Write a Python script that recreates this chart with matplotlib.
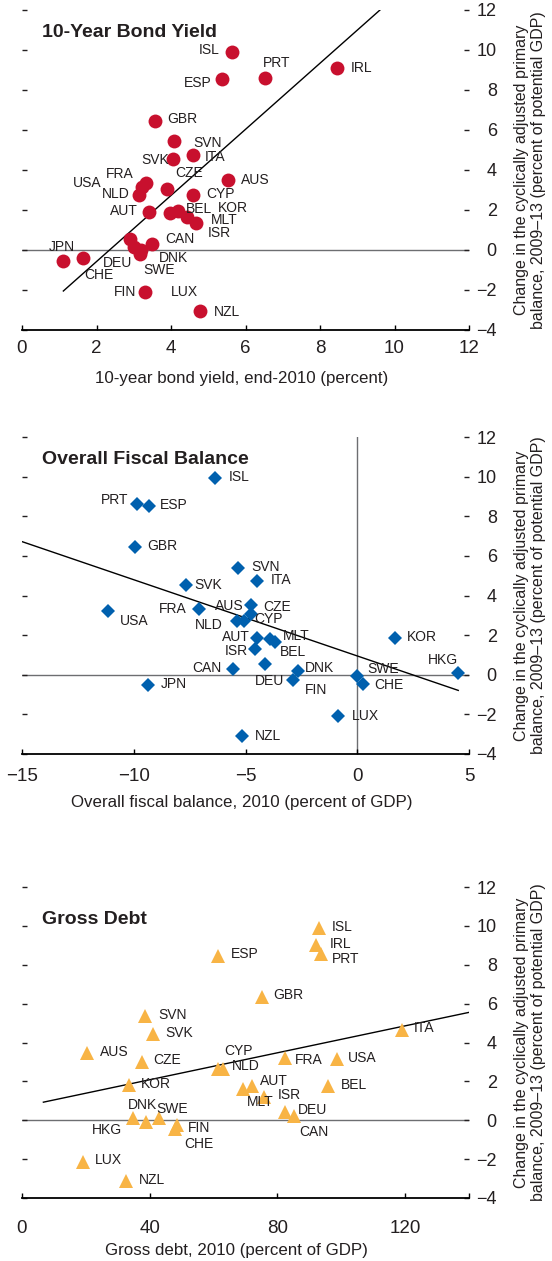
import matplotlib
matplotlib.use("Agg")
import matplotlib.pyplot as plt
from matplotlib import font_manager

# countries / values
bond_codes = ["ISL", "IRL", "PRT", "ESP", "GBR", "SVN", "ITA", "SVK", "FRA", "USA",
              "CZE", "AUS", "NLD", "CYP", "AUT", "BEL", "KOR", "MLT", "ISR", "CAN",
              "JPN", "DEU", "CHE", "DNK", "SWE", "FIN", "LUX", "NZL"]
bond_x = [5.65, 8.45, 6.52, 5.36, 3.57, 4.09, 4.58, 4.05, 3.33, 3.22,
          3.88, 5.54, 3.15, 4.58, 3.42, 3.97, 4.20, 4.42, 4.67, 3.48,
          1.11, 2.90, 1.65, 3.00, 3.20, 3.18, 3.30, 4.78]
bond_y = [9.92, 9.12, 8.62, 8.55, 6.45, 5.43, 4.75, 4.53, 3.35, 3.15,
          3.05, 3.50, 2.75, 2.75, 1.88, 1.83, 1.97, 1.67, 1.33, 0.30,
          -0.53, 0.55, -0.38, 0.15, 0.02, -0.22, -2.08, -3.05]
bond_trend_x = [1.11, 9.61]
bond_trend_y = [-2.05, 12.0]

fisc_codes = ["ISL", "PRT", "ESP", "GBR", "SVN", "ITA", "SVK", "USA", "FRA", "AUS",
              "CZE", "NLD", "CYP", "AUT", "MLT", "BEL", "ISR", "DEU", "CAN", "DNK",
              "FIN", "JPN", "SWE", "CHE", "KOR", "HKG", "LUX", "NZL"]
fisc_x = [-6.36, -9.87, -9.33, -9.94, -5.32, -4.47, -7.66, -11.17, -7.08, -4.77,
          -4.77, -5.37, -5.05, -4.47, -3.90, -3.68, -4.56, -4.13, -5.54, -2.67,
          -2.86, -9.35, -0.03, 0.24, 1.69, 4.52, -0.85, -5.16]
fisc_y = [9.91, 8.63, 8.52, 6.45, 5.40, 4.73, 4.51, 3.20, 3.30, 3.53,
          3.08, 2.71, 2.69, 1.87, 1.82, 1.65, 1.28, 0.55, 0.27, 0.18,
          -0.24, -0.54, -0.04, -0.46, 1.87, 0.10, -2.09, -3.07]
fisc_trend_x = [-15.0, 4.52]
fisc_trend_y = [6.72, -0.79]

debt_codes = ["ISL", "IRL", "PRT", "ESP", "GBR", "SVN", "SVK", "ITA", "AUS", "CZE",
              "FRA", "USA", "CYP", "NLD", "KOR", "AUT", "MLT", "ISR", "BEL", "DEU",
              "CAN", "HKG", "DNK", "SWE", "FIN", "CHE", "LUX", "NZL"]
debt_x = [93.0, 92.1, 93.5, 61.5, 75.1, 38.6, 41.1, 118.9, 20.5, 37.7,
          82.4, 98.8, 61.5, 62.8, 33.4, 72.1, 69.1, 75.9, 95.7, 82.4,
          85.2, 34.7, 43.0, 38.7, 48.6, 47.9, 19.0, 32.5]
debt_y = [9.87, 9.04, 8.55, 8.46, 6.36, 5.36, 4.42, 4.65, 3.45, 2.99,
          3.19, 3.14, 2.64, 2.62, 1.81, 1.77, 1.60, 1.22, 1.74, 0.45,
          0.20, 0.11, 0.11, -0.09, -0.27, -0.45, -2.15, -3.10]
debt_trend_x = [6.7, 140.0]
debt_trend_y = [0.93, 5.55]

# label offsets in pixels (dx right, dy up) from each marker
bond_off = {"ISL": (-23, 2), "IRL": (25, 0), "PRT": (12, 15), "ESP": (-24, -4),
            "GBR": (27, 2), "SVN": (33, -2), "ITA": (22, -2), "SVK": (-18, -1),
            "FRA": (-26, 9), "USA": (-55, 4), "CZE": (23, 16), "AUS": (27, 0),
            "NLD": (-24, 1), "CYP": (28, 1), "AUT": (-25, 1), "BEL": (29, 4),
            "KOR": (54, 3), "MLT": (38, -3), "ISR": (23, -10), "CAN": (28, 5),
            "JPN": (-2, 14), "DEU": (-12, -24), "CHE": (15, -17), "DNK": (40, -11),
            "SWE": (18, -20), "FIN": (-15, -38), "LUX": (40, 0), "NZL": (27, -1)}
fisc_off = {"ISL": (24, 1), "PRT": (-22, 4), "ESP": (25, 1), "GBR": (27, 1),
            "SVN": (27, 1), "ITA": (24, 1), "SVK": (22, 0), "USA": (27, -10),
            "FRA": (-26, 0), "AUS": (-21, -1), "CZE": (26, 7), "NLD": (-28, -4),
            "CYP": (24, 2), "AUT": (-21, 1), "MLT": (26, 3), "BEL": (18, -10),
            "ISR": (-19, -2), "DEU": (5, -17), "CAN": (-27, 1), "DNK": (22, 3),
            "FIN": (23, -10), "JPN": (26, 1), "SWE": (27, 7), "CHE": (26, -1),
            "KOR": (27, 1), "HKG": (-15, 13), "LUX": (27, 0), "NZL": (26, 0)}
debt_off = {"ISL": (23, 1), "IRL": (25, 1), "PRT": (25, -5), "ESP": (26, 2),
            "GBR": (27, 2), "SVN": (27, 1), "SVK": (26, 1), "ITA": (22, 2),
            "AUS": (27, 1), "CZE": (25, 2), "FRA": (24, -2), "USA": (25, 1),
            "CYP": (20, 18), "NLD": (23, 3), "KOR": (27, 1), "AUT": (22, 5),
            "MLT": (18, -13), "ISR": (25, 2), "BEL": (26, 1), "DEU": (27, 2),
            "CAN": (20, -16), "HKG": (-26, -12), "DNK": (-17, 13), "SWE": (27, 13),
            "FIN": (22, -3), "CHE": (24, -15), "LUX": (26, 2), "NZL": (26, 1)}

YLABEL = "Change in the cyclically adjusted primary\nbalance, 2009\u201313 (percent of potential GDP)"

names = {f.name for f in font_manager.fontManager.ttflist}
NARROW = "Liberation Sans Narrow" if "Liberation Sans Narrow" in names else "Liberation Sans"
plt.rcParams["font.family"] = [NARROW, "DejaVu Sans"]
TXT = "#231f20"

fig = plt.figure(figsize=(5.52, 12.61), dpi=100)
W, H = 552.0, 1261.0


def panel(top, bottom, xs, ys, codes, offs, tx, ty, marker, color, ms,
          xlim, xticks, xticklabels, xpad, title, title_y, vline=False):
    ax = fig.add_axes([22 / W, 1 - bottom / H, 447 / W, (bottom - top) / H])
    ax.set_xlim(*xlim)
    ax.set_ylim(-4, 12)
    ax.axhline(0, color="#6d6e71", lw=1.0, zorder=1)
    if vline:
        ax.axvline(0, color="#6d6e71", lw=1.0, zorder=1)
    ax.plot(tx, ty, color="black", lw=1.0, zorder=2)
    ax.plot(xs, ys, linestyle="none", marker=marker, color=color, ms=ms,
            markeredgewidth=0, zorder=3)
    for c, x, y in zip(codes, xs, ys):
        dx, dy = offs[c]
        ax.annotate(c, (x, y), xytext=(dx, dy), textcoords="offset pixels",
                    ha="center", va="center", fontsize=10, color=TXT, zorder=4)
    for s in ("left", "right", "top"):
        ax.spines[s].set_visible(False)
    ax.spines["bottom"].set_linewidth(1.3)
    ax.spines["bottom"].set_color("black")
    ax.set_yticks(range(-4, 13, 2))
    ax.set_xticks(xticks, labels=xticklabels)
    ax.tick_params(axis="y", left=True, right=True, labelleft=False, labelright=True,
                   direction="in", length=3.6, width=1, color=TXT, pad=20,
                   labelsize=13, labelcolor=TXT)
    for lbl in ax.get_yticklabels():
        lbl.set_horizontalalignment("right")
    ax.tick_params(axis="x", direction="in", length=3.6, width=1, color="black",
                   pad=xpad, labelsize=13.5, labelcolor=TXT)
    ax.text(0.045, title_y, title, transform=ax.transAxes, fontsize=14,
            fontweight="bold", color=TXT, ha="left", va="center")
    fig.text(530 / W, 1 - (top + bottom) / 2 / H, YLABEL, rotation=90, ha="center",
             va="center", multialignment="center", fontsize=11.5, color=TXT)
    return ax


ax1 = panel(10, 330, bond_x, bond_y, bond_codes, bond_off, bond_trend_x, bond_trend_y,
            "o", "#c8102e", 10, (0, 12), range(0, 13, 2), [str(v) for v in range(0, 13, 2)],
            7, "10-Year Bond Yield", 0.93)
fig.text(242 / W, 1 - 378 / H, "10-year bond yield, end-2010 (percent)",
         ha="center", va="center", fontsize=12.2, color=TXT)

ax2 = panel(437, 754, fisc_x, fisc_y, fisc_codes, fisc_off, fisc_trend_x, fisc_trend_y,
            "D", "#0060ae", 7.5, (-15, 5), [-15, -10, -5, 0, 5],
            ["\u221215", "\u221210", "\u22125", "0", "5"], 10,
            "Overall Fiscal Balance", 0.93, vline=True)
fig.text(242 / W, 1 - 803 / H, "Overall fiscal balance, 2010 (percent of GDP)",
         ha="center", va="center", fontsize=12.2, color=TXT)

ax3 = panel(887, 1198, debt_x, debt_y, debt_codes, debt_off, debt_trend_x, debt_trend_y,
            "^", "#f8b445", 10, (0, 140), [0, 40, 80, 120, 140],
            ["0", "40", "80", "120", ""], 16, "Gross Debt", 0.895)
fig.text(236 / W, 1 - 1250 / H, "Gross debt, 2010 (percent of GDP)",
         ha="center", va="center", fontsize=12.2, color=TXT)

fig.savefig("out.png", dpi=100)
